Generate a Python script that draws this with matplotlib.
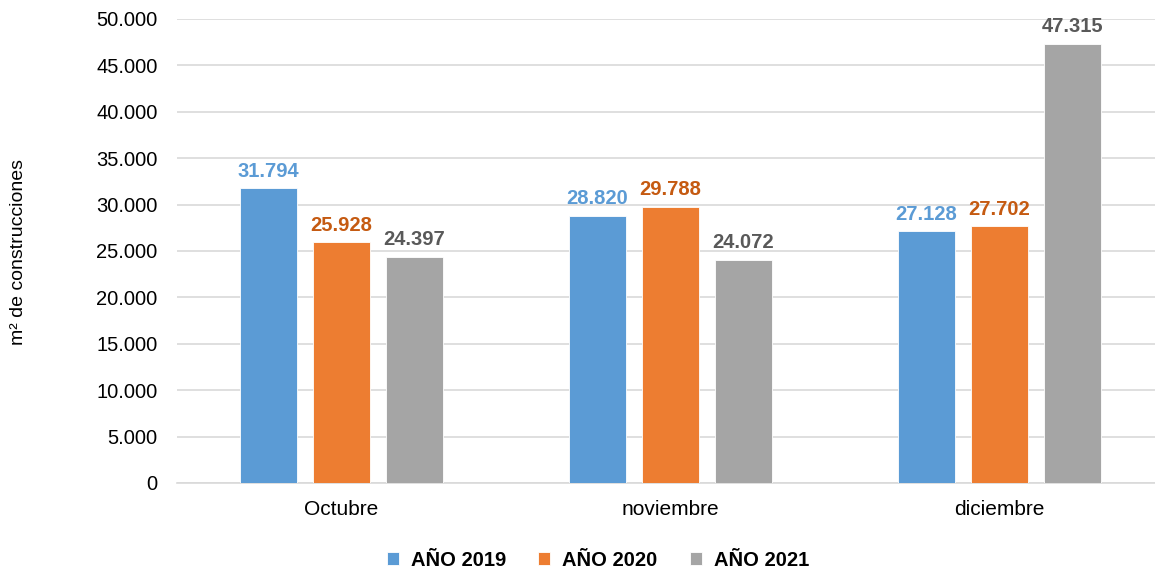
import matplotlib
matplotlib.use("Agg")
import matplotlib.pyplot as plt
import numpy as np
from matplotlib.ticker import FuncFormatter

# datos
meses = ["Octubre", "noviembre", "diciembre"]
series = ["AÑO 2019", "AÑO 2020", "AÑO 2021"]
v2019 = [31794, 28820, 27128]
v2020 = [25928, 29788, 27702]
v2021 = [24397, 24072, 47315]

bar_colors = ["#5B9BD5", "#ED7D31", "#A5A5A5"]
label_colors = ["#5B9BD5", "#C55A11", "#595959"]

plt.rcParams["font.family"] = ["Liberation Sans", "DejaVu Sans"]

fig = plt.figure(figsize=(11.55, 5.76), dpi=100)
ax = fig.add_axes([177 / 1155, 1 - 483 / 576, 987 / 1155, (483 - 19) / 576])

x = np.arange(len(meses))
width = 0.173
step = 0.222
for i, (vals, name) in enumerate(zip([v2019, v2020, v2021], series)):
    pos = x + (i - 1) * step
    bars = ax.bar(pos, vals, width, color=bar_colors[i], label=name, zorder=3,
                  edgecolor="white", linewidth=0.6)
    for b, v in zip(bars, vals):
        ax.text(b.get_x() + b.get_width() / 2, v + 800, f"{v:,}".replace(",", "."),
                ha="center", va="bottom", fontsize=14.5, fontweight="bold",
                color=label_colors[i])

ax.set_xlim(-0.5, 2.5)
ax.set_ylim(0, 50000)
ax.set_yticks(np.arange(0, 50001, 5000))
ax.yaxis.set_major_formatter(FuncFormatter(lambda v, p: f"{int(v):,}".replace(",", ".")))
ax.set_xticks(x)
ax.set_xticklabels(meses, fontsize=15)
ax.tick_params(axis="both", length=0, colors="black")
ax.tick_params(axis="y", pad=14, labelsize=14.5)
ax.tick_params(axis="x", pad=12)
ax.grid(axis="y", color="#D9D9D9", linewidth=1.2, zorder=0)
for s in ["top", "right", "left"]:
    ax.spines[s].set_visible(False)
ax.spines["bottom"].set_color("#D9D9D9")
ax.spines["bottom"].set_linewidth(1.2)

fig.text(19 / 1155, 1 - 252 / 576, "m² de construcciones", rotation=90,
         ha="center", va="center", fontsize=14)

leg = fig.legend(loc="center", bbox_to_anchor=(598 / 1155, 1 - 560 / 576), ncol=3,
                 frameon=False, prop={"size": 14.5, "weight": "bold"},
                 handlelength=0.6, handleheight=0.6, columnspacing=1.6, handletextpad=0.6)

fig.savefig("out.png", dpi=100)
